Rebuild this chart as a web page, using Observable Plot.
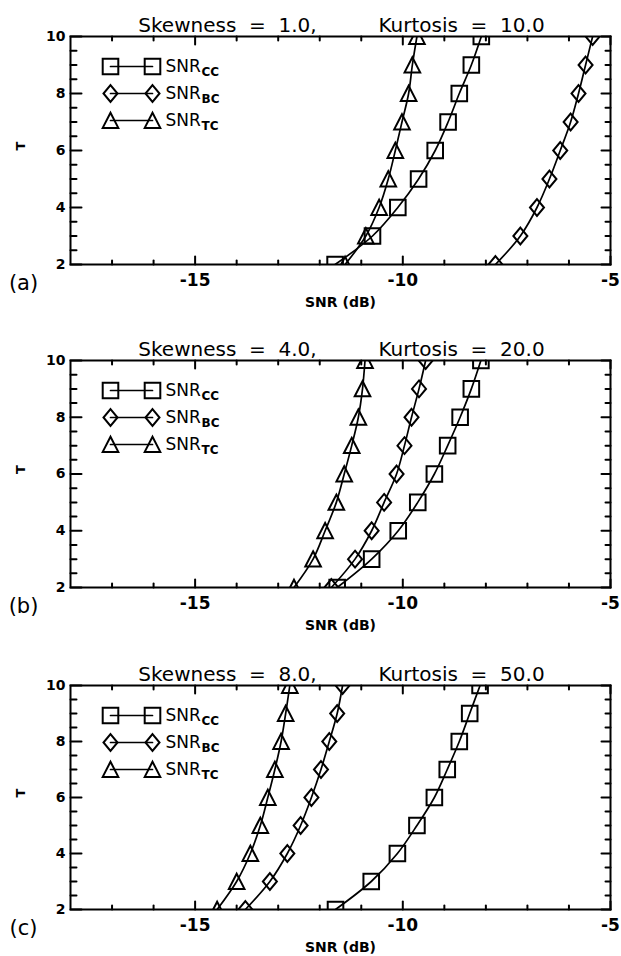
<!DOCTYPE html>
<html>
<head>
<meta charset="utf-8">
<script src="https://cdn.jsdelivr.net/npm/d3@7"></script>
<script src="https://cdn.jsdelivr.net/npm/@observablehq/plot@0.6"></script>
<style>
  html, body { margin: 0; padding: 0; background: #fff; }
  #chart { width: 621px; }
  #chart svg { display: block; background: #fff; }
</style>
</head>
<body>
<div id="chart"></div>
<script>
// ---- data ----
const T = [2, 3, 4, 5, 6, 7, 8, 9, 10];

const snrCC_a = [-11.63, -10.73, -10.12, -9.62, -9.22, -8.91, -8.64, -8.35, -8.11];
const snrBC_a = [-7.77, -7.17, -6.77, -6.47, -6.21, -5.96, -5.77, -5.60, -5.43];
const snrTC_a = [-11.39, -10.89, -10.57, -10.35, -10.18, -10.02, -9.86, -9.77, -9.66];

const snrCC_b = [-11.58, -10.75, -10.11, -9.64, -9.24, -8.92, -8.62, -8.35, -8.12];
const snrBC_b = [-11.72, -11.15, -10.75, -10.45, -10.15, -9.96, -9.79, -9.61, -9.45];
const snrTC_b = [-12.62, -12.16, -11.87, -11.60, -11.41, -11.23, -11.07, -10.97, -10.91];

const snrCC_c = [-11.62, -10.76, -10.13, -9.66, -9.24, -8.93, -8.64, -8.39, -8.14];
const snrBC_c = [-13.79, -13.20, -12.78, -12.46, -12.20, -11.97, -11.77, -11.58, -11.45];
const snrTC_c = [-14.47, -14.00, -13.67, -13.43, -13.25, -13.08, -12.93, -12.82, -12.72];

const skewness = ["1.0", "4.0", "8.0"];
const kurtosis = ["10.0", "20.0", "50.0"];
const panelLetters = ["(a)", "(b)", "(c)"];
const seriesSub = ["CC", "BC", "TC"];

const xMajor = [-15, -10, -5];
const xMinor = [-17, -16, -14, -13, -12, -11, -9, -8, -7, -6];
const yMajor = [2, 4, 6, 8, 10];
const yMinor = [2.5, 3, 3.5, 4.5, 5, 5.5, 6.5, 7, 7.5, 8.5, 9, 9.5];

// ---- symbols (open markers like IDL) ----
const symSquare = {draw(ctx, size) { const r = Math.sqrt(size / Math.PI);
  ctx.moveTo(-r, -r); ctx.lineTo(r, -r); ctx.lineTo(r, r); ctx.lineTo(-r, r); ctx.closePath(); }};
const symDiamond = {draw(ctx, size) { const r = Math.sqrt(size / Math.PI), w = r * 0.9, h = r * 1.08;
  ctx.moveTo(0, -h); ctx.lineTo(w, 0); ctx.lineTo(0, h); ctx.lineTo(-w, 0); ctx.closePath(); }};
const symTriangle = {draw(ctx, size) { const r = Math.sqrt(size / Math.PI);
  ctx.moveTo(0, -r); ctx.lineTo(r, r * 0.95); ctx.lineTo(-r, r * 0.95); ctx.closePath(); }};
const symbols = [symSquare, symDiamond, symTriangle];
const stick = {draw(ctx, l) { ctx.moveTo(0, 0); ctx.lineTo(0, -l); }};

const panelSeries = [
  [snrCC_a, snrBC_a, snrTC_a],
  [snrCC_b, snrBC_b, snrTC_b],
  [snrCC_c, snrBC_c, snrTC_c]
];
const layouts = [
  {height: 322, marginTop: 36, marginBottom: 58},
  {height: 325, marginTop: 38, marginBottom: 60},
  {height: 309, marginTop: 38, marginBottom: 47}
];
const W = 621, ML = 70, MR = 11;
const MS = 7.8; // marker half size

// inward ticks on all four sides, drawn as short vectors anchored to the frame
function tickMarks() {
  const o = {anchor: "start", shape: stick, stroke: "black", strokeWidth: 2};
  return [
    Plot.vector(xMinor, {x: d => d, frameAnchor: "bottom", length: 4, rotate: 0, ...o}),
    Plot.vector(xMajor, {x: d => d, frameAnchor: "bottom", length: 8, rotate: 0, ...o}),
    Plot.vector(xMinor, {x: d => d, frameAnchor: "top", length: 4, rotate: 180, ...o}),
    Plot.vector(xMajor, {x: d => d, frameAnchor: "top", length: 8, rotate: 180, ...o}),
    Plot.vector(yMinor, {y: d => d, frameAnchor: "left", length: 6, rotate: 90, ...o}),
    Plot.vector(yMajor, {y: d => d, frameAnchor: "left", length: 11, rotate: 90, ...o}),
    Plot.vector(yMinor, {y: d => d, frameAnchor: "right", length: 5, rotate: -90, ...o}),
    Plot.vector(yMajor, {y: d => d, frameAnchor: "right", length: 9, rotate: -90, ...o})
  ];
}

const chart = document.getElementById("chart");
const sp = "\u00a0\u00a0";

panelSeries.forEach((series, p) => {
  const lay = layouts[p];
  const marks = [];
  series.forEach((vals, s) => {
    const rows = T.map((t, i) => ({T: t, snr: vals[i]}));
    marks.push(Plot.line(rows, {x: "snr", y: "T", curve: "catmull-rom", stroke: "black", strokeWidth: 1.7, clip: true}));
    marks.push(Plot.dot(rows, {x: "snr", y: "T", symbol: symbols[s], r: MS, stroke: "black", fill: "none", strokeWidth: 2, clip: true}));
  });
  // legend
  seriesSub.forEach((sub, s) => {
    const dy = 30 + 27 * s;
    marks.push(Plot.vector([0], {frameAnchor: "top-left", dx: 40, dy, length: 42, rotate: 90, anchor: "start", shape: stick, stroke: "black", strokeWidth: 1.7}));
    marks.push(Plot.dot([0], {frameAnchor: "top-left", dx: 40, dy, symbol: symbols[s], r: MS, stroke: "black", fill: "none", strokeWidth: 2}));
    marks.push(Plot.dot([0], {frameAnchor: "top-left", dx: 82, dy, symbol: symbols[s], r: MS, stroke: "black", fill: "none", strokeWidth: 2}));
    marks.push(Plot.text(["SNR"], {frameAnchor: "top-left", dx: 95, dy, textAnchor: "start", lineAnchor: "middle", fontSize: 17}));
    marks.push(Plot.text([sub], {frameAnchor: "top-left", dx: 131, dy: dy + 6, textAnchor: "start", lineAnchor: "middle", fontSize: 12, fontWeight: "bold"}));
  });
  marks.push(Plot.frame({stroke: "black", strokeWidth: 2}));
  marks.push(...tickMarks());
  marks.push(Plot.axisX(xMajor, {anchor: "bottom", tickSize: 0, tickPadding: 9, tickFormat: d => String(d),
    fontSize: 17, fontWeight: "bold", label: null}));
  marks.push(Plot.axisY(yMajor, {anchor: "left", tickSize: 0, tickPadding: 5, tickFormat: d => String(d),
    fontSize: 14, fontWeight: "bold", label: null}));
  // titles
  marks.push(Plot.text(["Skewness" + sp + "=" + sp + skewness[p] + ","], {frameAnchor: "top-left", dx: 227 - ML, dy: -11, textAnchor: "middle", lineAnchor: "middle", fontSize: 20}));
  marks.push(Plot.text(["Kurtosis" + sp + "=" + sp + kurtosis[p]], {frameAnchor: "top-left", dx: 461 - ML, dy: -11, textAnchor: "middle", lineAnchor: "middle", fontSize: 20}));
  marks.push(Plot.text(["SNR (dB)"], {frameAnchor: "bottom", dy: 38, lineAnchor: "middle", fontSize: 14, fontWeight: "bold"}));
  marks.push(Plot.text(["T"], {frameAnchor: "left", dx: -50, rotate: -90, fontSize: 13, fontWeight: "bold"}));
  marks.push(Plot.text([panelLetters[p]], {frameAnchor: "bottom-left", dx: -47, dy: 19, textAnchor: "middle", lineAnchor: "middle", fontSize: 21}));

  const svg = Plot.plot({
    width: W,
    height: lay.height,
    marginLeft: ML,
    marginRight: MR,
    marginTop: lay.marginTop,
    marginBottom: lay.marginBottom,
    style: {fontFamily: "DejaVu Sans", color: "black", background: "white"},
    x: {domain: [-18, -5], label: null},
    y: {domain: [2, 10], label: null},
    marks
  });
  chart.appendChild(svg);
});
</script>
</body>
</html>
